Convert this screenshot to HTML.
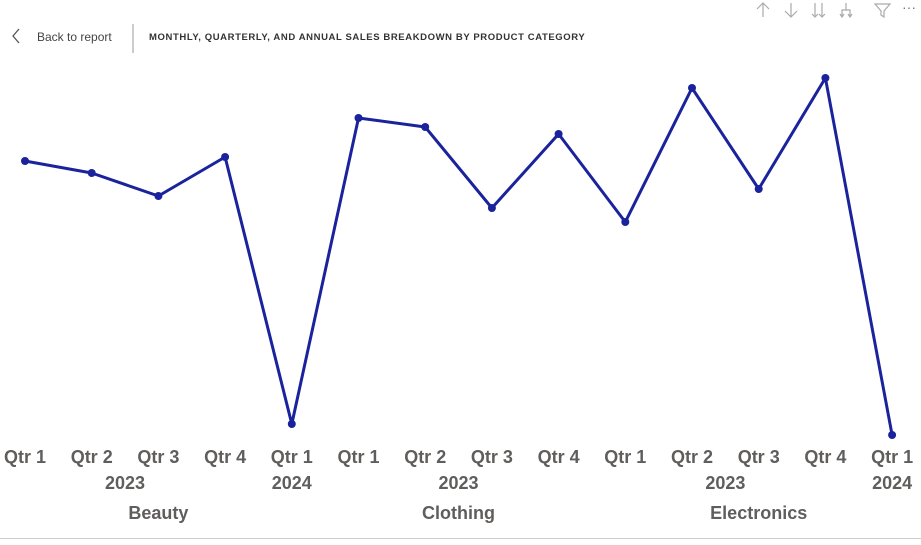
<!DOCTYPE html>
<html><head><meta charset="utf-8"><style>
body{margin:0;background:#fff;font-family:"Liberation Sans",sans-serif;}
svg text{font-family:"Liberation Sans",sans-serif;}
</style></head><body>
<svg width="921" height="540" viewBox="0 0 921 540">
<g>
  <path d="M19 29 L13 36 L19 43" fill="none" stroke="#555" stroke-width="1.3"/>
  <text x="37" y="41" font-size="12" fill="#444">Back to report</text>
  <line x1="133" y1="24" x2="133" y2="53" stroke="#999" stroke-width="1"/>
  <text x="149" y="40" font-size="9.5" font-weight="bold" fill="#333" letter-spacing="0.6">MONTHLY, QUARTERLY, AND ANNUAL SALES BREAKDOWN BY PRODUCT CATEGORY</text>
  <g stroke="#aaa" stroke-width="1.2" fill="none">
    <path d="M763 17 V3 M757 9 L763 3 L769 9"/>
    <path d="M791 3 V17 M785 11 L791 17 L797 11"/>
    <path d="M815 3 V17 M822 3 V17 M812 14 L815 17 L818 14 M819 14 L822 17 L825 14"/>
    <path d="M846 3 V10 H842 V17 M846 10 H850 V17 M840 14 L842 17 L844 14 M848 14 L850 17 L852 14"/>
    <path d="M875 4 H890 L884 11 V17 L881 15 V11 Z"/>
  </g>
  <text x="902" y="12" font-size="14" fill="#777">···</text>
</g>
<g id="plot"></g>
<g id="xaxis"></g>
<line x1="0" y1="538.5" x2="921" y2="538.5" stroke="#ccc" stroke-width="1"/>
</svg>
<script>
const quarters=["Qtr 1","Qtr 2","Qtr 3","Qtr 4","Qtr 1","Qtr 1","Qtr 2","Qtr 3","Qtr 4","Qtr 1","Qtr 2","Qtr 3","Qtr 4","Qtr 1"];
const yearLabels=["2023","2024","2023","2023","2024"];
const yearFrom=[0,4,5,9,13];
const yearTo=[3,4,8,12,13];
const catLabels=["Beauty","Clothing","Electronics"];
const catFrom=[0,5,9];
const catTo=[4,8,13];
const sales=[279,267,244,283,16,322,313,232,306,218,352,251,362,5];

const NS="http://www.w3.org/2000/svg";
const x0=25, step=66.7;
const xS=i=>x0+i*step;
const yS=v=>440-v;
const plot=document.getElementById('plot'), xa=document.getElementById('xaxis');
const line=document.createElementNS(NS,'polyline');
line.setAttribute('points',sales.map((v,i)=>xS(i)+','+yS(v)).join(' '));
line.setAttribute('fill','none');line.setAttribute('stroke','#1a239c');line.setAttribute('stroke-width','3');line.setAttribute('stroke-linejoin','round');


plot.appendChild(line);
sales.forEach((v,i)=>{
  const c=document.createElementNS(NS,'circle');
  c.setAttribute('cx',xS(i));c.setAttribute('cy',yS(v));c.setAttribute('r','4');c.setAttribute('fill','#1a239c');
  
  
  plot.appendChild(c);
});
function txt(s,x,y,name){
  const t=document.createElementNS(NS,'text');
  t.setAttribute('x',x);t.setAttribute('y',y);t.setAttribute('text-anchor','middle');
  t.setAttribute('font-size','18');t.setAttribute('font-weight','bold');t.setAttribute('fill','#605e5c');
  t.textContent=s;
  
  
  xa.appendChild(t);
}
quarters.forEach((q,i)=>txt(q,xS(i),463,'quarter-label'));
yearLabels.forEach((l,k)=>txt(l,(xS(yearFrom[k])+xS(yearTo[k]))/2,489,'year-label'));
catLabels.forEach((l,k)=>txt(l,(xS(catFrom[k])+xS(catTo[k]))/2,519,'category-label'));
</script>
</body></html>
